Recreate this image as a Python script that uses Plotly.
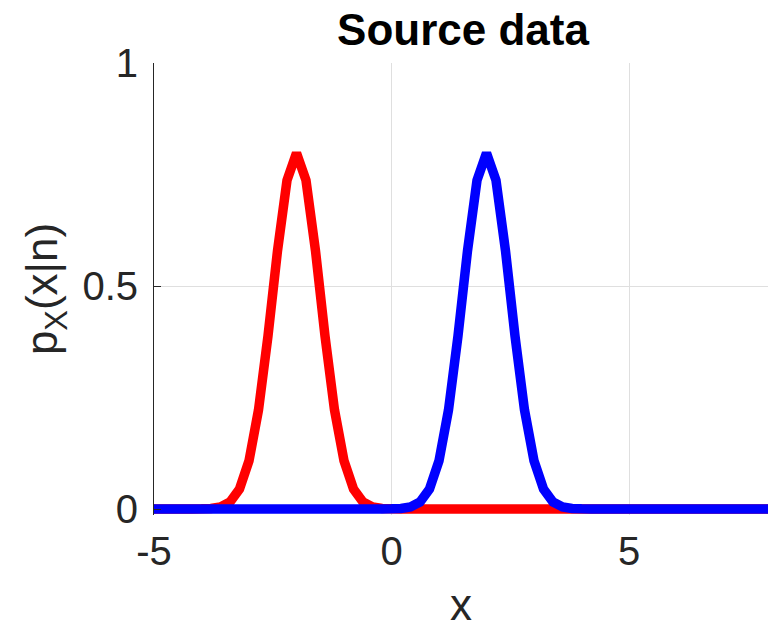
import plotly.graph_objects as go

x_vals = [-5.0, -4.8, -4.6, -4.4, -4.2, -4.0, -3.8, -3.6, -3.4, -3.2,
          -3.0, -2.8, -2.6, -2.4, -2.2, -2.0, -1.8, -1.6, -1.4, -1.2,
          -1.0, -0.8, -0.6, -0.4, -0.2, 0.0, 0.2, 0.4, 0.6, 0.8,
          1.0, 1.2, 1.4, 1.6, 1.8, 2.0, 2.2, 2.4, 2.6, 2.8,
          3.0, 3.2, 3.4, 3.6, 3.8, 4.0, 4.2, 4.4, 4.6, 4.8,
          5.0, 5.2, 5.4, 5.6, 5.8, 6.0, 6.2, 6.4, 6.6, 6.8,
          7.0, 7.2, 7.4, 7.6, 7.8, 8.0]

red_vals = [0.0, 0.0, 0.0, 0.0, 0.00005, 0.0003, 0.0012, 0.0048, 0.0158, 0.0448,
            0.108, 0.222, 0.388, 0.579, 0.737, 0.798, 0.737, 0.579, 0.388, 0.222,
            0.108, 0.0448, 0.0158, 0.0048, 0.0012, 0.0003, 0.00005, 0.0, 0.0, 0.0,
            0.0, 0.0, 0.0, 0.0, 0.0, 0.0, 0.0, 0.0, 0.0, 0.0,
            0.0, 0.0, 0.0, 0.0, 0.0, 0.0, 0.0, 0.0, 0.0, 0.0,
            0.0, 0.0, 0.0, 0.0, 0.0, 0.0, 0.0, 0.0, 0.0, 0.0,
            0.0, 0.0, 0.0, 0.0, 0.0, 0.0]

blue_vals = [0.0, 0.0, 0.0, 0.0, 0.0, 0.0, 0.0, 0.0, 0.0, 0.0,
             0.0, 0.0, 0.0, 0.0, 0.0, 0.0, 0.0, 0.0, 0.0, 0.0,
             0.0, 0.0, 0.0, 0.0, 0.00005, 0.0003, 0.0012, 0.0048, 0.0158, 0.0448,
             0.108, 0.222, 0.388, 0.579, 0.737, 0.798, 0.737, 0.579, 0.388, 0.222,
             0.108, 0.0448, 0.0158, 0.0048, 0.0012, 0.0003, 0.00005, 0.0, 0.0, 0.0,
             0.0, 0.0, 0.0, 0.0, 0.0, 0.0, 0.0, 0.0, 0.0, 0.0,
             0.0, 0.0, 0.0, 0.0, 0.0, 0.0]

x_ticks = [-5, 0, 5]
x_tick_labels = ["-5", "0", "5"]
y_ticks = [0, 0.5, 1]
y_tick_labels = ["0", "0.5", "1"]

FONT = "Liberation Sans, Arial, sans-serif"
AX = "#262626"
GRID = "#dfdfdf"

fig = go.Figure()
fig.add_trace(go.Scatter(x=x_vals, y=red_vals, mode="lines",
                         line=dict(color="#ff0000", width=9.5, simplify=False),
                         showlegend=False))
fig.add_trace(go.Scatter(x=x_vals, y=blue_vals, mode="lines",
                         line=dict(color="#0000ff", width=9.5, simplify=False),
                         showlegend=False))

W, H = 768, 629
fig.update_layout(
    width=W, height=H,
    margin=dict(l=154, r=0, t=63, b=114, pad=0),
    paper_bgcolor="white", plot_bgcolor="white",
    font=dict(family=FONT, color=AX, size=40),
    title=dict(text="<b>Source data</b>", x=463 / W, xref="container", xanchor="center",
               y=1 - 30 / H, yref="container", yanchor="middle",
               font=dict(family=FONT, size=44, color="black")),
)
fig.update_xaxes(
    range=[-5, -5 + 614 / 47.5], tickvals=x_ticks, ticktext=x_tick_labels,
    showgrid=True, gridcolor=GRID, gridwidth=1, zeroline=False,
    showline=False, ticks="", ticklabelstandoff=9,
    tickfont=dict(size=40, family=FONT, color=AX),
    title=dict(text="x", font=dict(size=44, family=FONT, color=AX), standoff=24),
)
fig.update_yaxes(
    range=[-6 / 446, 1], tickvals=y_ticks, ticktext=y_tick_labels,
    showgrid=True, gridcolor=GRID, gridwidth=1, zeroline=False,
    showline=True, linecolor=AX, linewidth=1,
    ticks="inside", ticklen=7, tickcolor=AX, ticklabelstandoff=7,
    tickfont=dict(size=40, family=FONT, color=AX),
    title=dict(text="p<sub>X</sub>(x|n)", font=dict(size=44, family=FONT, color=AX), standoff=10),
)

fig.write_html("out.html", config={"displayModeBar": False},
               post_script="document.body.style.margin='0';")
